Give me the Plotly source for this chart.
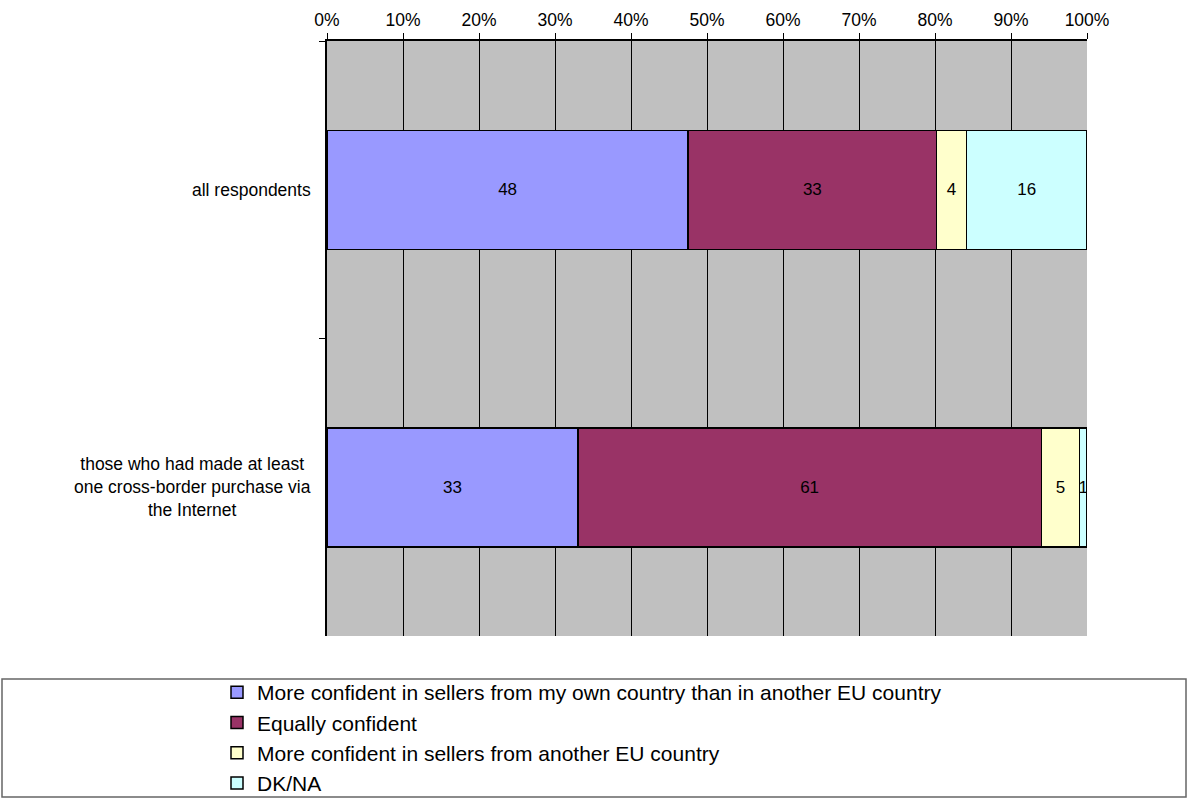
import plotly.graph_objects as go

categories = ["all respondents",
              "those who had made at least<br>one cross-border purchase via<br>the Internet"]
series_names = ["More confident in sellers from my own country than in another EU country",
                "Equally confident",
                "More confident in sellers from another EU country",
                "DK/NA"]
own_country = [48, 33]
equally = [33, 61]
another_eu = [4, 5]
dk_na = [16, 1]
colors = ["#9999FF", "#993366", "#FFFFCC", "#CCFFFF"]
x_ticks = [0, 10, 20, 30, 40, 50, 60, 70, 80, 90, 100]
x_tick_labels = [f"{v}%" for v in x_ticks]

FONT = "Arial, Liberation Sans, sans-serif"
W, H = 1188, 798
L, R, T, B = 327, 1087, 41, 636

def px_x(p):
    return (p - L) / (R - L)

def px_y(p):
    return (B - p) / (B - T)

fig = go.Figure()
for name, vals, col in zip(series_names, [own_country, equally, another_eu, dk_na], colors):
    fig.add_trace(go.Bar(
        y=categories, x=vals, name=name, orientation="h",
        marker=dict(color=col, line=dict(color="black", width=1.5)),
        text=vals, texttemplate="%{text}", textposition="inside",
        insidetextanchor="middle", textangle=0,
        textfont=dict(family=FONT, size=17, color="black"),
        hoverinfo="skip",
    ))

annotations = []
for c in categories:
    annotations.append(dict(
        x=0, xref="paper", y=c, yref="y", xanchor="right", yanchor="middle",
        xshift=-14, text=c, showarrow=False, align="center",
        font=dict(family=FONT, size=17.5, color="black"),
    ))

fig.update_layout(
    width=W, height=H,
    margin=dict(l=L, r=W - R, t=T, b=H - B, autoexpand=False),
    barmode="stack", barnorm="percent", bargap=0.6,
    plot_bgcolor="#C0C0C0", paper_bgcolor="white",
    font=dict(family=FONT, size=17.5, color="black"),
    uniformtext=dict(minsize=17, mode="show"),
    showlegend=True,
    legend=dict(
        x=px_x(217), xanchor="left", y=px_y(672), yanchor="top",
        orientation="v", traceorder="normal",
        font=dict(family=FONT, size=21, color="black"),
        bgcolor="rgba(0,0,0,0)", borderwidth=0,
    ),
    annotations=annotations,
    shapes=[dict(type="rect", xref="paper", yref="paper",
                 x0=px_x(2), x1=px_x(1186), y0=px_y(797), y1=px_y(679),
                 line=dict(color="#666666", width=1.5), fillcolor="rgba(0,0,0,0)",
                 layer="below")],
)
fig.update_xaxes(
    side="top", range=[0, 100], tickvals=x_ticks, ticktext=x_tick_labels,
    showgrid=True, gridcolor="black", gridwidth=1, zeroline=False,
    showline=True, linecolor="black", linewidth=1.5,
    ticks="outside", ticklen=6, tickcolor="black",
    tickfont=dict(family=FONT, size=17.5, color="black"), fixedrange=True,
)
fig.update_yaxes(
    categoryorder="array", categoryarray=categories, autorange="reversed",
    showticklabels=False, showgrid=False, zeroline=False,
    showline=True, linecolor="black", linewidth=1.5,
    ticks="outside", ticklen=6, tickcolor="black", tickson="boundaries",
    mirror=False, fixedrange=True,
)

fig.write_html("out.html",
               config={"displayModeBar": False},
               post_script="document.body.style.margin='0';document.body.style.overflow='hidden';")
